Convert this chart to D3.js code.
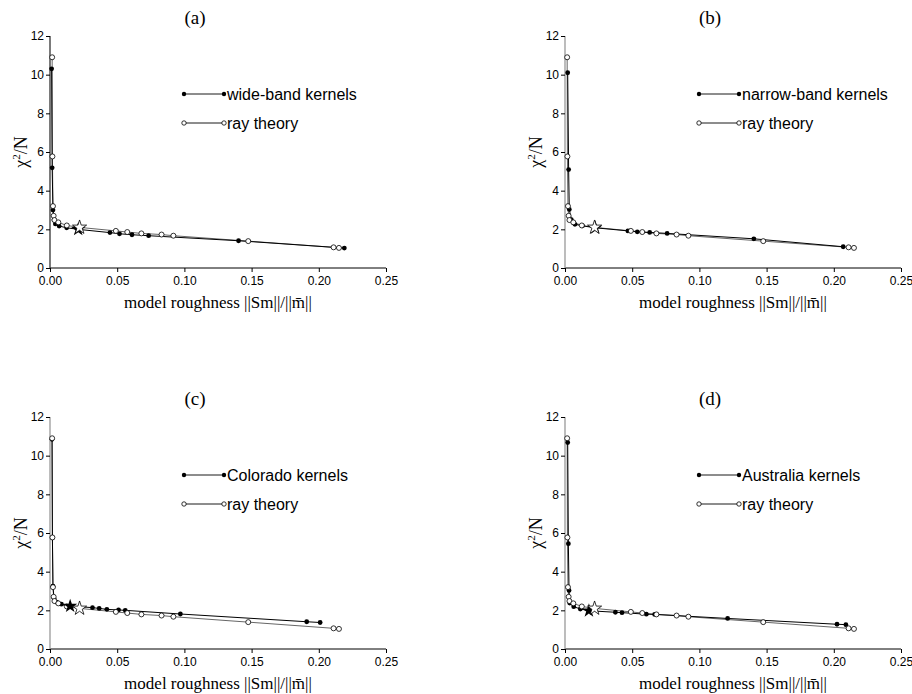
<!DOCTYPE html>
<html lang="en">
<head>
<meta charset="UTF-8">
<title>L-curves: kernels vs ray theory</title>
<script src="https://d3js.org/d3.v7.min.js"></script>
<style>
  body { margin: 0; background: #fff; }
  .tick text { font-family: "Liberation Sans", Arial, sans-serif; font-size: 12px; fill: #000; }
  .legend text { font-family: "Liberation Sans", Arial, sans-serif; font-size: 16px; }
  .serif { font-family: "Liberation Serif", "Times New Roman", serif; }
</style>
</head>
<body>
<svg id="chart" width="912" height="694"></svg>
<script>
// ---- data ----
const panelTags = ['(a)', '(b)', '(c)', '(d)'];
const kernelNames = ['wide-band kernels', 'narrow-band kernels', 'Colorado kernels', 'Australia kernels'];

const xTicks = [0, 0.05, 0.10, 0.15, 0.20, 0.25];
const yTicks = [0, 2, 4, 6, 8, 10, 12];

// ray theory curve (same in every panel)
const rayX = [0.0016, 0.0018, 0.0022, 0.0027, 0.0033, 0.0062, 0.0125, 0.022, 0.049, 0.0575, 0.068, 0.083, 0.0918, 0.1475, 0.211, 0.215];
const rayY = [10.9, 5.77, 3.2, 2.7, 2.48, 2.36, 2.2, 2.1, 1.92, 1.86, 1.79, 1.73, 1.67, 1.39, 1.07, 1.04];
const rayStar = 7;

const wideX = [0.0012, 0.0016, 0.0022, 0.003, 0.004, 0.0068, 0.0124, 0.021, 0.0446, 0.0517, 0.061, 0.0734, 0.1403, 0.219];
const wideY = [10.3, 5.18, 3.0, 2.5, 2.28, 2.17, 2.08, 2.0, 1.83, 1.77, 1.72, 1.67, 1.41, 1.03];
const wideStar = 7;

const narrowX = [0.002, 0.0027, 0.0032, 0.0047, 0.0074, 0.013, 0.0225, 0.0468, 0.0538, 0.063, 0.076, 0.1405, 0.207];
const narrowY = [10.1, 5.09, 3.03, 2.5, 2.26, 2.18, 2.08, 1.92, 1.87, 1.84, 1.79, 1.51, 1.1];
const narrowStar = 6;

const coloradoX = [0.0015, 0.0018, 0.0022, 0.003, 0.005, 0.0085, 0.015, 0.0316, 0.0366, 0.0423, 0.051, 0.056, 0.097, 0.191, 0.201];
const coloradoY = [10.85, 5.75, 3.25, 2.62, 2.42, 2.32, 2.22, 2.14, 2.1, 2.05, 2.02, 2.0, 1.81, 1.41, 1.37];
const coloradoStar = 6;

const australiaX = [0.002, 0.0025, 0.003, 0.0035, 0.0065, 0.0114, 0.0178, 0.0375, 0.0424, 0.0605, 0.0667, 0.121, 0.2024, 0.209];
const australiaY = [10.68, 5.45, 3.03, 2.38, 2.19, 2.07, 1.98, 1.9, 1.88, 1.8, 1.79, 1.58, 1.28, 1.26];
const australiaStar = 6;

const kernelXs = [wideX, narrowX, coloradoX, australiaX];
const kernelYs = [wideY, narrowY, coloradoY, australiaY];
const kernelStars = [wideStar, narrowStar, coloradoStar, australiaStar];

// ---- layout ----
const svg = d3.select('#chart');
const plotW = 336, plotH = 232;
const origins = [[50, 36], [565, 36], [50, 417], [565, 417]];
const yAxisColor = ['#333', '#999', '#999', '#999'];

const x = d3.scaleLinear().domain([0, 0.25]).range([0, plotW]);
const y = d3.scaleLinear().domain([0, 12]).range([plotH, 0]);

const zip = (xs, ys) => xs.map((v, i) => [v, ys[i]]);
const line = d3.line().x(d => x(d[0])).y(d => y(d[1]));
const star = d3.symbol().type(d3.symbolStar).size(62);

origins.forEach((o, p) => {
  const g = svg.append('g').attr('transform', `translate(${o[0]},${o[1]})`);

  // axes
  const xAxis = d3.axisBottom(x).tickValues(xTicks).tickFormat(d3.format('.2f')).tickSize(4).tickPadding(4);
  const gx = g.append('g').attr('transform', `translate(0,${plotH})`).call(xAxis);
  gx.selectAll('.domain').attr('d', `M0,0H${plotW}`).attr('stroke', '#000');

  const yAxis = d3.axisLeft(y).tickValues(yTicks).tickSize(4).tickPadding(2);
  const gy = g.append('g').call(yAxis);
  gy.select('.domain').attr('d', `M0,${plotH}V0`).attr('stroke', yAxisColor[p]).attr('stroke-width', 1.3);

  // title
  g.append('text').attr('class', 'serif')
    .attr('x', 145).attr('y', -12)
    .attr('text-anchor', 'middle').attr('font-size', 19)
    .text(panelTags[p]);

  // axis labels
  g.append('text').attr('class', 'serif')
    .attr('x', plotW / 2).attr('y', plotH + 40)
    .attr('text-anchor', 'middle').attr('font-size', 17)
    .text('model roughness ||Sm||/||m\u0304||');

  const yl = g.append('text').attr('class', 'serif')
    .attr('transform', `translate(-23,${plotH / 2}) rotate(-90)`)
    .attr('text-anchor', 'middle').attr('font-size', 18);
  yl.append('tspan').text('\u03c7');
  yl.append('tspan').attr('dy', -7).attr('font-size', 11).text('2');
  yl.append('tspan').attr('dy', 7).text('/N');

  const kern = zip(kernelXs[p], kernelYs[p]);
  const ray = zip(rayX, rayY);

  // lines
  g.append('path').datum(ray).attr('d', line)
    .attr('fill', 'none').attr('stroke', '#666').attr('stroke-width', 1);
  g.append('path').datum(kern).attr('d', line)
    .attr('fill', 'none').attr('stroke', '#000').attr('stroke-width', 1);

  // markers: filled first, open circles on top
  g.selectAll('.kpt').data(kern.filter((d, i) => i !== kernelStars[p])).join('circle')
    .attr('cx', d => x(d[0])).attr('cy', d => y(d[1])).attr('r', 2.4).attr('fill', '#000');
  g.selectAll('.rpt').data(ray.filter((d, i) => i !== rayStar)).join('circle')
    .attr('cx', d => x(d[0])).attr('cy', d => y(d[1])).attr('r', 2.5)
    .attr('fill', '#fff').attr('stroke', '#000').attr('stroke-width', 0.8);

  // preferred models (stars)
  const ks = kern[kernelStars[p]], rs = ray[rayStar];
  g.append('path').attr('d', star).attr('transform', `translate(${x(ks[0])},${y(ks[1])})`)
    .attr('fill', '#000');
  g.append('path').attr('d', star).attr('transform', `translate(${x(rs[0])},${y(rs[1])})`)
    .attr('fill', '#fff').attr('stroke', '#000').attr('stroke-width', 0.8);

  // legend
  const lg = g.append('g').attr('class', 'legend');
  const rows = [[y(9), 'k', kernelNames[p]], [y(7.5), 'r', 'ray theory']];
  rows.forEach(r => {
    lg.append('line').attr('x1', 134).attr('x2', 174).attr('y1', r[0]).attr('y2', r[0])
      .attr('stroke', '#000').attr('stroke-width', 0.9);
    [134, 174].forEach(cx => {
      const c = lg.append('circle').attr('cx', cx).attr('cy', r[0]).attr('r', 2.2);
      if (r[1] === 'k') c.attr('fill', '#000');
      else c.attr('fill', '#fff').attr('stroke', '#000').attr('stroke-width', 0.8);
    });
    lg.append('text').attr('x', 177).attr('y', r[0] + 5.8).text(r[2]);
  });
});
</script>
</body>
</html>
